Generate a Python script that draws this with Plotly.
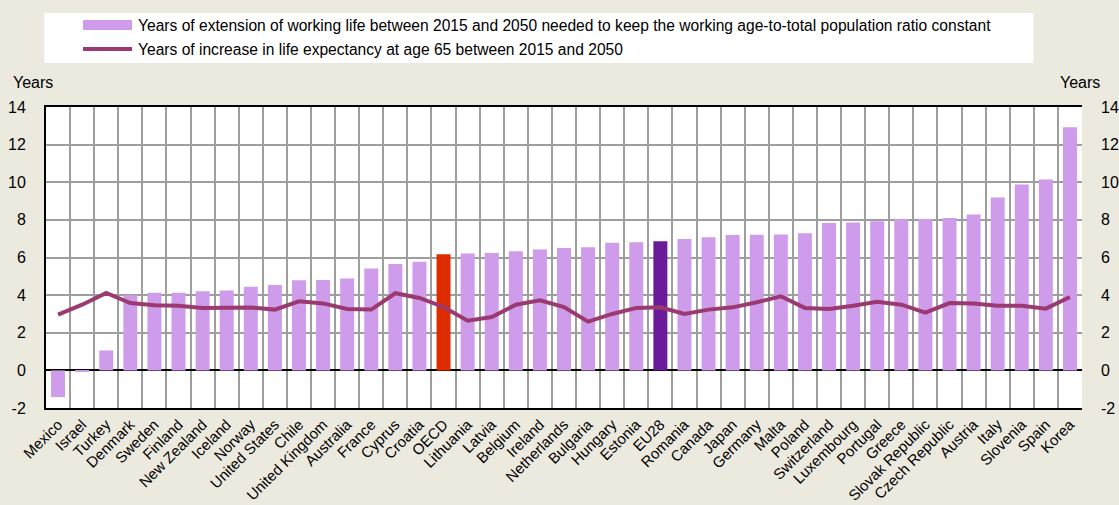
import plotly.graph_objects as go

countries = ["Mexico", "Israel", "Turkey", "Denmark", "Sweden", "Finland", "New Zealand", "Iceland",
             "Norway", "United States", "Chile", "United Kingdom", "Australia", "France", "Cyprus",
             "Croatia", "OECD", "Lithuania", "Latvia", "Belgium", "Ireland", "Netherlands", "Bulgaria",
             "Hungary", "Estonia", "EU28", "Romania", "Canada", "Japan", "Germany", "Malta", "Poland",
             "Switzerland", "Luxembourg", "Portugal", "Greece", "Slovak Republic", "Czech Republic",
             "Austria", "Italy", "Slovenia", "Spain", "Korea"]

working_life_ext = [-1.42, -0.08, 1.06, 4.0, 4.13, 4.13, 4.2, 4.24, 4.45, 4.54, 4.79, 4.8, 4.89, 5.41,
                    5.66, 5.78, 6.17, 6.21, 6.24, 6.33, 6.42, 6.51, 6.54, 6.79, 6.81, 6.86, 6.99, 7.07,
                    7.2, 7.21, 7.22, 7.29, 7.84, 7.86, 7.93, 8.03, 8.05, 8.1, 8.28, 9.19, 9.88, 10.14, 12.93]

life_exp_increase = [2.96, 3.49, 4.12, 3.58, 3.46, 3.44, 3.32, 3.32, 3.34, 3.23, 3.67, 3.56, 3.26, 3.23,
                     4.1, 3.85, 3.37, 2.64, 2.84, 3.49, 3.72, 3.37, 2.59, 3.0, 3.32, 3.35, 3.0, 3.23,
                     3.35, 3.62, 3.94, 3.32, 3.26, 3.44, 3.65, 3.49, 3.07, 3.58, 3.56, 3.44, 3.44, 3.28, 3.9]

legend_bar = "Years of extension of working life between 2015 and 2050 needed to keep the working age-to-total population ratio constant"
legend_line = "Years of increase in life expectancy at age 65 between 2015 and 2050"
y_ticks = [-2, 0, 2, 4, 6, 8, 10, 12, 14]
y_tick_labels = [str(v) for v in y_ticks]

BAR = "#CF9BEB"
HIGHLIGHT = {"OECD": "#DD2C00", "EU28": "#6A1B9A"}
LINE = "#9B3A70"
BG = "#ECE9DF"
GRID = "#9E9E9E"
FONT = "Liberation Sans, Arial, sans-serif"

bar_colors = [HIGHLIGHT.get(c, BAR) for c in countries]

fig = go.Figure()
fig.add_trace(go.Bar(x=countries, y=working_life_ext, marker=dict(color=bar_colors, line=dict(width=0)),
                     name=legend_bar, showlegend=False))
fig.add_trace(go.Scatter(x=countries, y=life_exp_increase, mode="lines", line=dict(color=LINE, width=4),
                         name=legend_line, showlegend=False))
fig.add_trace(go.Scatter(x=countries, y=life_exp_increase, mode="lines", yaxis="y2",
                         line=dict(width=0), opacity=0, hoverinfo="skip", showlegend=False))

axis_font = dict(family=FONT, size=16, color="#000000")
fig.update_layout(
    width=1119, height=505,
    paper_bgcolor=BG, plot_bgcolor="#FFFFFF",
    margin=dict(l=46, r=37, t=107, b=97, autoexpand=False),
    bargap=0.42,
    font=dict(family=FONT, color="#000000"),
    xaxis=dict(type="category", tickson="boundaries", ticks="", showgrid=True, gridcolor=GRID,
               gridwidth=1.5, tickangle=-45, tickfont=dict(family=FONT, size=15, color="#000"),
               automargin=False,
               showline=True, linecolor="#000", linewidth=2, mirror=True, range=[-0.5, 42.5]),
    yaxis=dict(range=[-2, 14], tickvals=y_ticks, ticktext=y_tick_labels, showgrid=True,
               gridcolor=GRID, gridwidth=1.5, automargin=False,
               zeroline=True, zerolinecolor="#000", zerolinewidth=2, tickfont=axis_font,
               ticklabelstandoff=15, showline=True, linecolor="#000", linewidth=2),
    yaxis2=dict(range=[-2, 14], tickvals=y_ticks, ticktext=y_tick_labels, overlaying="y", side="right",
                showgrid=False, zeroline=False, tickfont=axis_font, ticklabelstandoff=18, automargin=False),
)

# manual legend box
fig.add_shape(type="rect", xref="paper", yref="paper", x0=-0.0016, x1=0.953, y0=1.146, y1=1.312,
              fillcolor="#FFFFFF", line=dict(width=0), layer="below")
fig.add_shape(type="rect", xref="paper", yref="paper", x0=(83 - 46) / 1036, x1=(132 - 46) / 1036,
              y0=(408 - 30) / 301, y1=(408 - 20) / 301, fillcolor=BAR, line=dict(width=0))
fig.add_shape(type="line", xref="paper", yref="paper", x0=(83 - 46) / 1036, x1=(132 - 46) / 1036,
              y0=(408 - 49) / 301, y1=(408 - 49) / 301, line=dict(color=LINE, width=4))
fig.add_annotation(text=legend_bar, xref="paper", yref="paper", x=(136 - 46) / 1036, y=(408 - 25) / 301,
                   xanchor="left", yanchor="middle", showarrow=False, font=dict(family=FONT, size=15.6))
fig.add_annotation(text=legend_line, xref="paper", yref="paper", x=(136 - 46) / 1036, y=(408 - 49) / 301,
                   xanchor="left", yanchor="middle", showarrow=False, font=dict(family=FONT, size=15.6))
fig.add_annotation(text="Years", xref="paper", yref="paper", x=(11 - 46) / 1036, y=(408 - 82) / 301,
                   xanchor="left", yanchor="middle", showarrow=False, font=dict(family=FONT, size=16))
fig.add_annotation(text="Years", xref="paper", yref="paper", x=(1102 - 46) / 1036, y=(408 - 82) / 301,
                   xanchor="right", yanchor="middle", showarrow=False, font=dict(family=FONT, size=16))

fig.write_html("out.html", config={"displayModeBar": False},
               post_script="document.body.style.margin='0';document.body.style.overflow='hidden';")
